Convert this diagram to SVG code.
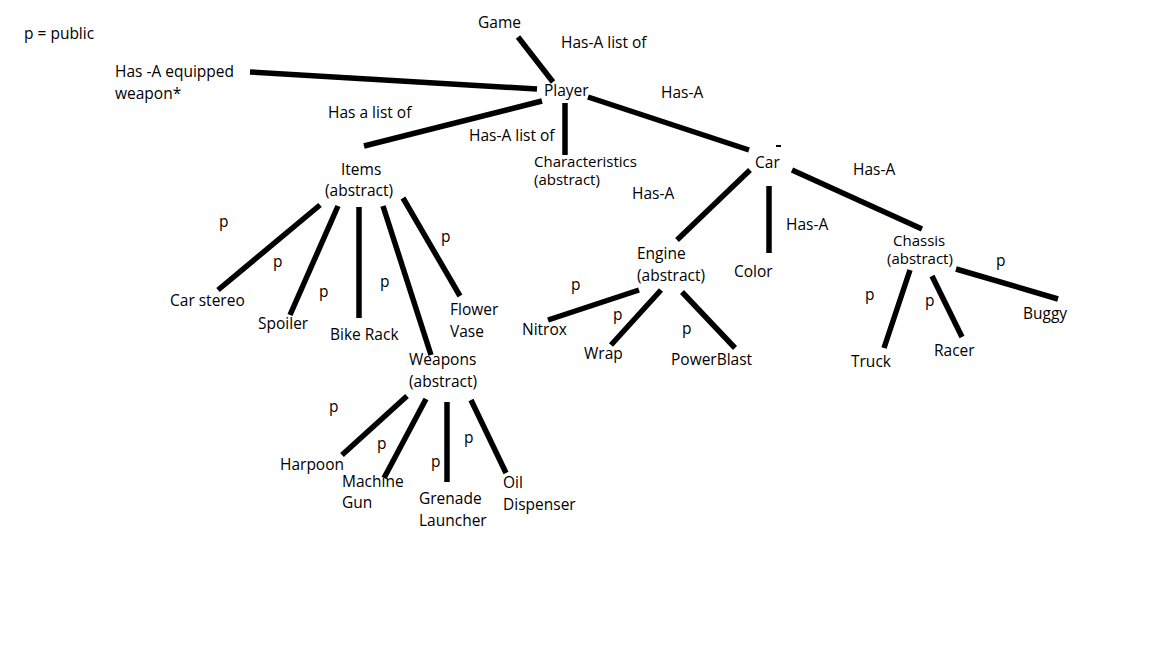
<svg xmlns="http://www.w3.org/2000/svg" width="1152" height="648" viewBox="0 0 1152 648">
<style>
text{font-family:"Open Sans","Noto Sans","DejaVu Sans",sans-serif;font-size:15.5px;fill:#000}
.t{font-size:15px}
.e{stroke:#000;stroke-width:5.5;fill:none;stroke-linecap:butt}
</style>
<rect width="1152" height="648" fill="#fff"/>
<g id="connectors">
<line class="e" x1="250" y1="72" x2="537" y2="89"/>
<line class="e" x1="518" y1="37" x2="553" y2="82"/>
<line class="e" x1="588" y1="97" x2="749" y2="150"/>
<line class="e" x1="542" y1="101" x2="364" y2="146"/>
<line class="e" x1="565" y1="103" x2="565" y2="155"/>
<line class="e" x1="750" y1="170" x2="677" y2="240"/>
<line class="e" x1="769" y1="186" x2="769" y2="253"/>
<line class="e" x1="792" y1="170" x2="922" y2="229"/>
<line class="e" x1="548" y1="320" x2="639" y2="290"/>
<line class="e" x1="611" y1="345" x2="661" y2="290"/>
<line class="e" x1="682" y1="292" x2="735" y2="348"/>
<line class="e" x1="910" y1="270" x2="884" y2="348"/>
<line class="e" x1="932" y1="276" x2="962" y2="337"/>
<line class="e" x1="956" y1="269" x2="1058" y2="299"/>
<line class="e" x1="320" y1="205" x2="218" y2="290"/>
<line class="e" x1="338" y1="206" x2="290" y2="315"/>
<line class="e" x1="359" y1="207" x2="359" y2="318"/>
<line class="e" x1="383" y1="206" x2="431" y2="355"/>
<line class="e" x1="403" y1="198" x2="460" y2="296"/>
<line class="e" x1="407" y1="396" x2="342" y2="455"/>
<line class="e" x1="426" y1="399" x2="384" y2="478"/>
<line class="e" x1="447" y1="402" x2="447" y2="482"/>
<line class="e" x1="471" y1="400" x2="506" y2="473"/>
<line x1="776" y1="146" x2="781" y2="146" stroke="#000" stroke-width="2"/>
</g>
<g id="labels">
<text x="24" y="39">p = public</text>
<text x="561" y="48">Has-A list of</text>
<text x="661" y="98">Has-A</text>
<text x="328" y="118">Has a list of</text>
<text x="469" y="141">Has-A list of</text>
<text x="853" y="175">Has-A</text>
<text x="632" y="199">Has-A</text>
<text x="786" y="230">Has-A</text>
<text x="219" y="227">p</text>
<text x="273" y="267">p</text>
<text x="319" y="297">p</text>
<text x="380" y="287">p</text>
<text x="441" y="242">p</text>
<text x="571" y="290">p</text>
<text x="613" y="320">p</text>
<text x="682" y="334">p</text>
<text x="865" y="300">p</text>
<text x="925" y="306">p</text>
<text x="996" y="266">p</text>
<text x="329" y="412">p</text>
<text x="377" y="449">p</text>
<text x="431" y="467">p</text>
<text x="464" y="443">p</text>
</g>
<g id="game"><text x="478" y="28">Game</text></g>
<g id="equipped"><text x="115" y="77">Has -A equipped</text><text x="115" y="99">weapon*</text></g>
<g id="player"><text x="544" y="96">Player</text></g>
<g id="characteristics"><text class="t" x="534" y="167">Characteristics</text><text class="t" x="534" y="185">(abstract)</text></g>
<g id="items"><text x="341" y="175">Items</text><text x="325" y="196">(abstract)</text></g>
<g id="car"><text x="755" y="168">Car</text></g>
<g id="engine"><text x="637" y="259">Engine</text><text x="637" y="281">(abstract)</text></g>
<g id="color"><text x="734" y="277">Color</text></g>
<g id="chassis"><text class="t" x="893" y="246">Chassis</text><text class="t" x="887" y="264">(abstract)</text></g>
<g id="nitrox"><text x="522" y="335">Nitrox</text></g>
<g id="wrap"><text x="584" y="359">Wrap</text></g>
<g id="powerblast"><text x="671" y="365">PowerBlast</text></g>
<g id="truck"><text x="851" y="367">Truck</text></g>
<g id="racer"><text x="934" y="356">Racer</text></g>
<g id="buggy"><text x="1023" y="319">Buggy</text></g>
<g id="carstereo"><text x="170" y="306">Car stereo</text></g>
<g id="spoiler"><text x="258" y="329">Spoiler</text></g>
<g id="bikerack"><text x="330" y="340">Bike Rack</text></g>
<g id="flowervase"><text x="450" y="315">Flower</text><text x="450" y="337">Vase</text></g>
<g id="weapons"><text x="409" y="365">Weapons</text><text x="409" y="387">(abstract)</text></g>
<g id="harpoon"><text x="280" y="470">Harpoon</text></g>
<g id="machinegun"><text x="342" y="487">Machine</text><text x="342" y="508">Gun</text></g>
<g id="grenade"><text x="419" y="504">Grenade</text><text x="419" y="526">Launcher</text></g>
<g id="oil"><text x="503" y="488">Oil</text><text x="503" y="510">Dispenser</text></g>
</svg>
